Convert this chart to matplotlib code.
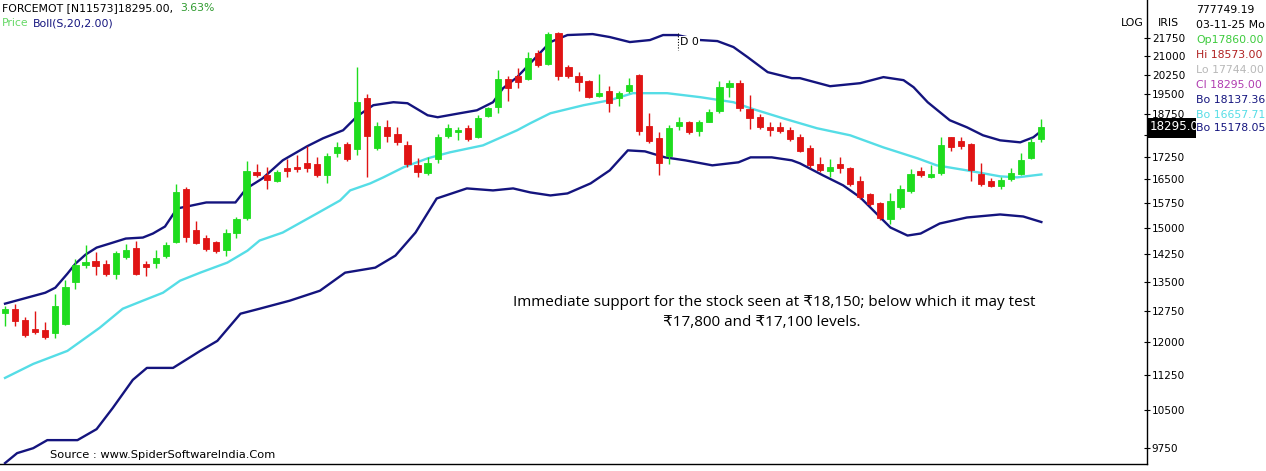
import matplotlib
matplotlib.use("Agg")
import matplotlib.pyplot as plt
import numpy as np
from matplotlib.lines import Line2D
from matplotlib.patches import Rectangle
from matplotlib.ticker import FixedLocator, FixedFormatter, NullLocator

# ── Daily candles (OHLC) ──────────────────────────────────────────────────────
opens = [12700, 12800, 12530, 12315, 12290, 12220, 12435, 13500, 13955, 14060,
         13980, 13715, 14170, 14425, 13980, 14010, 14195, 14600, 16175, 14940,
         14710, 14600, 14365, 14855, 15300, 16740, 16640, 16435, 16875, 16910,
         17045, 17010, 16640, 17355, 17670, 17495, 19350, 17530, 18260, 18015,
         17635, 16980, 16705, 17180, 17950, 18085, 18225, 17915, 18675, 19010,
         20060, 20175, 20060, 21125, 20665, 21960, 20540, 20210, 19985, 19425,
         19610, 19350, 19610, 20250, 18300, 17880, 17285, 18330, 18475, 18120,
         18475, 18860, 19760, 19910, 18935, 18635, 18260, 18260, 18155, 17915,
         17530, 17010, 16770, 17010, 16875, 16435, 16045, 15750, 15270, 15630,
         16140, 16770, 16570, 16705, 17915, 17775, 17670, 16670, 16435, 16270,
         16500, 16670, 17215, 17860]
highs = [12880, 12930, 12605, 12750, 12485, 13190, 13550, 14115, 14510, 14305,
         14090, 14335, 14540, 14625, 14060, 14365, 14600, 16340, 16240, 15210,
         14800, 14625, 14970, 15330, 17115, 17010, 16910, 16810, 17180, 17320,
         17600, 17250, 17355, 17740, 17740, 20540, 19500, 18450, 18525, 18260,
         17775, 17215, 17250, 18015, 18400, 18260, 18365, 18710, 19010, 20415,
         20175, 20500, 21165, 21250, 22000, 22000, 20625, 20335, 20025, 20290,
         19800, 19610, 20135, 20290, 18785, 18090, 18365, 18635, 18500, 18525,
         18935, 19985, 20025, 20025, 19460, 18750, 18475, 18475, 18260, 18015,
         17635, 17250, 17180, 17250, 16900, 16600, 16075, 15780, 16075, 16305,
         16840, 16910, 16980, 17915, 17940, 17915, 17705, 17045, 16535, 16565,
         16875, 17355, 17880, 18573]
lows = [12390, 12390, 12120, 12195, 12075, 12100, 12410, 13320, 13875, 13690,
        13660, 13580, 14115, 13690, 13660, 13875, 14140, 14570, 14600, 14540,
        14335, 14280, 14195, 14710, 15240, 16570, 16205, 16400, 16570, 16740,
        16740, 16570, 16370, 17250, 17115, 17320, 16570, 17460, 17740, 17635,
        16910, 16570, 16635, 17045, 17880, 17810, 17775, 17880, 18635, 18785,
        19235, 19725, 20025, 20540, 20625, 20025, 20100, 19610, 19350, 19385,
        18825, 19050, 19535, 17985, 17705, 16635, 17010, 18155, 18015, 17950,
        18440, 18800, 19385, 18860, 18190, 18190, 17950, 18050, 17775, 17390,
        16875, 16740, 16570, 16705, 16270, 15880, 15660, 15240, 15120, 15570,
        16075, 16570, 16540, 16635, 17425, 17495, 16435, 16270, 16240, 16175,
        16435, 16635, 17180, 17744]
closes = [12800, 12510, 12170, 12240, 12120, 12880, 13370, 13955, 14035, 13930,
          13715, 14280, 14365, 13715, 13900, 14140, 14510, 16110, 14740, 14570,
          14395, 14335, 14855, 15270, 16770, 16640, 16465, 16740, 16770, 16840,
          16875, 16640, 17285, 17565, 17180, 19200, 17950, 18300, 17950, 17740,
          17010, 16740, 17045, 17915, 18225, 18155, 17845, 18600, 18975, 20060,
          19725, 19950, 20915, 20625, 21920, 20210, 20175, 19950, 19385, 19535,
          19160, 19535, 19835, 18120, 17775, 17045, 18225, 18440, 18085, 18440,
          18825, 19760, 19910, 18975, 18600, 18260, 18155, 18120, 17845, 17425,
          16980, 16810, 16910, 16875, 16335, 15945, 15720, 15300, 15815, 16175,
          16670, 16635, 16670, 17635, 17565, 17600, 16810, 16335, 16270, 16465,
          16705, 17145, 17740, 18295]

# ── Bollinger(20, 2) bands (bar index, value) ────────────────────────────────
upper_idx = [0, 4, 5, 6.2, 7, 8, 9.1, 10.4, 12, 13.7, 14.7, 15.9, 17.1, 18.1, 20,
             22.9, 24, 25.6, 27.6, 30, 31.6, 33.6, 35, 36.6, 38.6, 40, 42, 43,
             45.2, 46.9, 48.5, 49.5, 50.9, 52.5, 54.2, 55.9, 58.4, 60.1, 62.1,
             64.1, 65.4, 66.8, 69.1, 70.8, 72.4, 73.8, 75.8, 78.2, 79, 82, 85,
             87.3, 89.3, 90.3, 91.7, 93.9, 95.6, 97.2, 98.9, 100.9, 102.2, 103]
upper_val = [12938, 13218, 13349, 13720, 13991, 14240, 14437, 14551, 14695, 14724,
             14840, 15045, 15586, 15647, 15770, 15770, 16209, 16531, 17124, 17597,
             17877, 18161, 18666, 19073, 19185, 19147, 18702, 18630, 18775, 18885,
             19185, 19718, 20150, 20832, 21580, 21878, 21920, 21793, 21580, 21665,
             21878, 21878, 21665, 21622, 21370, 20954, 20347, 20110, 20110, 19795,
             19913, 20150, 20031, 19757, 19185, 18520, 18267, 17983, 17807, 17737,
             17913, 18137.36]
mid_idx = [0, 2.8, 6.2, 9.4, 11.7, 13.7, 15.7, 17.4, 19.4, 22.1, 24.1, 25.3, 27.6,
           31, 33.3, 34.3, 36.3, 37.6, 39.6, 42, 44.2, 47.5, 50.9, 52.2, 54.2,
           57.5, 60.1, 62.4, 65.8, 69.1, 72.4, 74.1, 77.3, 80.7, 84, 87.3, 90.7,
           92.6, 95.6, 98.9, 100.6, 103]
mid_val = [11190, 11500, 11797, 12341, 12811, 13014, 13218, 13533, 13747, 14020,
           14352, 14638, 14869, 15434, 15832, 16146, 16369, 16563, 16891, 17191,
           17393, 17632, 18161, 18411, 18775, 19073, 19260, 19527, 19527, 19375,
           19185, 18959, 18594, 18233, 17983, 17563, 17191, 16957, 16791, 16596,
           16563, 16657.71]
lower_idx = [0, 1.2, 2.8, 4.2, 7.2, 9.1, 10.7, 12.7, 14.1, 16.7, 19.4, 21.1, 23.4,
             25.3, 28.3, 31.3, 33.8, 36.8, 38.8, 40.8, 42.9, 45.9, 48.5, 50.5,
             52.2, 54.2, 55.9, 58.2, 60.1, 61.9, 63.6, 65.6, 67.6, 70.3, 72.9,
             74.1, 76.2, 78.2, 79, 81.3, 83.3, 85, 86.3, 88, 89.7, 91, 92.9, 95.6,
             98.9, 101.2, 103]
lower_val = [9473, 9659, 9753, 9908, 9908, 10123, 10549, 11147, 11411, 11411, 11797,
             12030, 12687, 12811, 13014, 13270, 13747, 13883, 14213, 14869, 15893,
             16209, 16146, 16209, 16083, 15988, 16051, 16369, 16791, 17461, 17427,
             17224, 17124, 16957, 17058, 17224, 17224, 17124, 17024, 16628, 16306,
             15926, 15525, 15016, 14782, 14840, 15134, 15313, 15404, 15343,
             15178.05]

tick_values = list(range(9750, 21751, 750))
hidden_tick = 18000   # sits under the last-price tag

info_lines = ["777749.19", "03-11-25 Mo", "Op17860.00", "Hi 18573.00",
              "Lo 17744.00", "Cl 18295.00", "Bo 18137.36", "Bo 16657.71",
              "Bo 15178.05"]

GREEN = "#1EDC1E"
RED = "#E01414"
NAVY = "#14147E"
CYAN = "#55DDE6"

W, H = 1266, 471
fig = plt.figure(figsize=(W / 100, H / 100), dpi=100)
ax = fig.add_axes([0, 7 / H, 1147 / W, 464 / H])

# ── Bands ────────────────────────────────────────────────────────────────────
ax.plot(upper_idx, upper_val, color=NAVY, lw=1.7, zorder=3)
ax.plot(lower_idx, lower_val, color=NAVY, lw=1.7, zorder=3)
ax.plot(mid_idx, mid_val, color=CYAN, lw=1.7, zorder=3)

# ── Candles ──────────────────────────────────────────────────────────────────
o = np.array(opens, float)
h = np.array(highs, float)
l = np.array(lows, float)
c = np.array(closes, float)
x = np.arange(len(o))
cols = np.where(c >= o, GREEN, RED)
ax.vlines(x, l, h, colors=cols, lw=1.0, zorder=4)
bot = np.minimum(o, c)
top = np.maximum(o, c)
ax.bar(x, top - bot, bottom=bot, width=0.62, color=cols, edgecolor=cols,
       linewidth=0.6, zorder=5)

ax.set_yscale("log")
ax.set_xlim(-0.5, 113.5)
ax.set_ylim(9456, 23430)
ax.yaxis.tick_right()
ax.yaxis.set_major_locator(FixedLocator(tick_values))
ax.yaxis.set_major_formatter(FixedFormatter(
    ["" if v == hidden_tick else str(v) for v in tick_values]))
ax.yaxis.set_minor_locator(NullLocator())
ax.tick_params(axis="y", direction="inout", length=5, width=0.8, pad=1,
               labelsize=7.6, colors="black")
ax.set_xticks([])
for s in ["top", "left"]:
    ax.spines[s].set_visible(False)
ax.spines["right"].set_linewidth(1.0)
ax.spines["bottom"].set_linewidth(1.0)


def px(xp, yp):
    return xp / W, 1 - yp / H


# ── Header ───────────────────────────────────────────────────────────────────
fig.text(*px(2, 8), "FORCEMOT [N11573]18295.00,", fontsize=7.8,
         va="center", ha="left", color="black")
fig.text(*px(180, 8), "3.63%", fontsize=7.8, va="center", ha="left",
         color="#2E9A2E")
fig.text(*px(2, 23), "Price", fontsize=7.8, va="center", ha="left",
         color="#66D866")
fig.text(*px(33, 23), "Boll(S,20,2.00)", fontsize=7.8, va="center",
         ha="left", color=NAVY)

# ── Right info panel ─────────────────────────────────────────────────────────
fig.text(*px(1132, 23), "LOG", fontsize=7.8, va="center", ha="center")
fig.text(*px(1168, 23), "IRIS", fontsize=7.8, va="center", ha="center")
info_cols = ["black", "black", "#3CCB3C", "#B02020", "#B8B8B8", "#B03CB0",
             NAVY, CYAN, NAVY]
info_y = [10, 25, 40, 55, 70, 85, 100, 115, 128]
for s, col, yy in zip(info_lines, info_cols, info_y):
    fig.text(*px(1196, yy), s, fontsize=7.8, va="center", ha="left",
             color=col)

fig.add_artist(Rectangle(px(1148, 138), 48 / W, 20 / H, transform=fig.transFigure,
                         facecolor="black", edgecolor="none", zorder=10))
fig.text(*px(1150, 127), "18295.0", fontsize=8.6, va="center", ha="left",
         color="white", zorder=11)

# ── D 0 marker ───────────────────────────────────────────────────────────────
fig.add_artist(Line2D([678 / W, 678 / W], [1 - 33 / H, 1 - 50 / H],
                      transform=fig.transFigure, color="black", lw=0.8,
                      ls=(0, (1, 1.5))))
fig.text(*px(680, 42), "D 0", fontsize=7.8, va="center", ha="left",
         color="black",
         bbox=dict(facecolor="white", edgecolor="none", pad=1))

# ── Annotation and source ────────────────────────────────────────────────────
fam = ["Open Sans", "DejaVu Sans"]
fig.text(*px(774, 302),
         "Immediate support for the stock seen at \u20b918,150; below which it may test",
         fontsize=11, va="center", ha="center", family=fam)
fig.text(*px(762, 323), "\u20b917,800 and \u20b917,100 levels.", fontsize=11,
         va="center", ha="center", family=fam)
fig.text(*px(50, 455), "Source : www.SpiderSoftwareIndia.Com", fontsize=8.2,
         va="center", ha="left")

fig.savefig("out.png", dpi=100)
